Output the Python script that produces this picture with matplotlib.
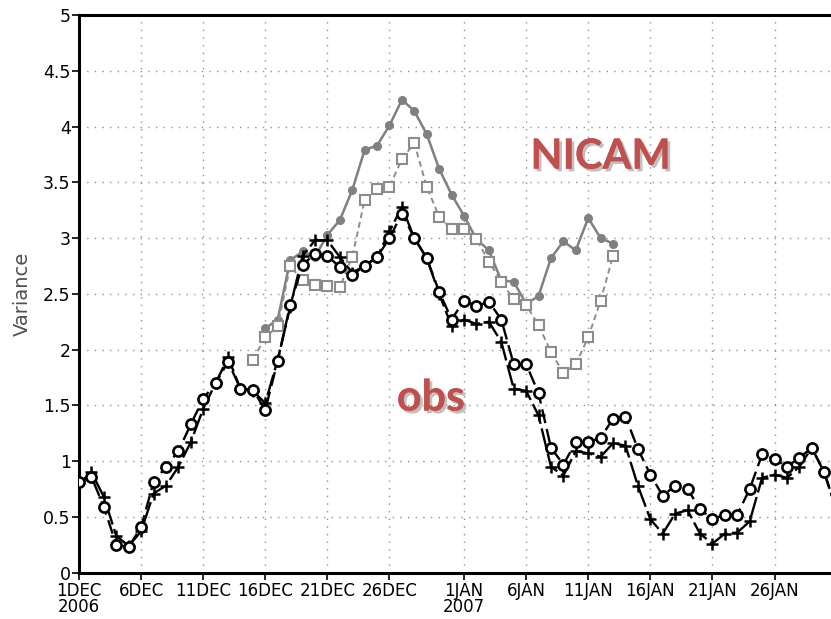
import numpy as np
import pandas as pd
import matplotlib
matplotlib.use('Agg')
import matplotlib.pyplot as plt
import matplotlib.patheffects as pe

# daily variance, 1 Dec 2006 - 31 Jan 2007
obs_circle = [0.81, 0.86, 0.59, 0.25, 0.23, 0.41, 0.81, 0.95, 1.09, 1.33,
              1.56, 1.70, 1.89, 1.65, 1.64, 1.46, 1.90, 2.40, 2.76, 2.86,
              2.84, 2.74, 2.67, 2.75, 2.83, 3.00, 3.22, 3.00, 2.82, 2.52,
              2.27, 2.44, 2.39, 2.43, 2.27, 1.87, 1.87, 1.61, 1.12, 0.97,
              1.17, 1.17, 1.21, 1.38, 1.40, 1.11, 0.88, 0.69, 0.78, 0.75,
              0.57, 0.48, 0.52, 0.52, 0.75, 1.06, 1.02, 0.95, 1.03, 1.12,
              0.90, 0.56]
obs_plus = [0.80, 0.90, 0.68, 0.33, 0.24, 0.37, 0.71, 0.78, 0.95, 1.17,
            1.47, 1.70, 1.93, 1.65, 1.63, 1.52, 1.91, 2.38, 2.84, 2.98,
            2.98, 2.83, 2.69, 2.75, 2.83, 3.06, 3.28, 3.00, 2.82, 2.50,
            2.21, 2.27, 2.23, 2.25, 2.07, 1.65, 1.63, 1.41, 0.95, 0.87,
            1.09, 1.07, 1.04, 1.16, 1.14, 0.78, 0.48, 0.35, 0.53, 0.56,
            0.35, 0.26, 0.35, 0.36, 0.46, 0.85, 0.88, 0.85, 0.95, 1.12,
            0.90, 0.56]
# NICAM runs: dots start 16 Dec, squares start 15 Dec
nicam_dot = [2.19, 2.27, 2.80, 2.88, 2.83, 3.03, 3.16, 3.43, 3.79, 3.83,
             4.01, 4.24, 4.14, 3.93, 3.62, 3.39, 3.20, 2.99, 2.89, 2.62,
             2.61, 2.41, 2.48, 2.82, 2.97, 2.89, 3.18, 3.00, 2.95]
nicam_sq = [1.91, 2.11, 2.21, 2.75, 2.62, 2.58, 2.57, 2.56, 2.83, 3.34,
            3.44, 3.46, 3.71, 3.85, 3.46, 3.19, 3.08, 3.08, 2.99, 2.79,
            2.61, 2.45, 2.40, 2.22, 1.98, 1.79, 1.87, 2.11, 2.44, 2.84]

tick_dates = ['2006-12-01', '2006-12-06', '2006-12-11', '2006-12-16',
              '2006-12-21', '2006-12-26', '2007-01-01', '2007-01-06',
              '2007-01-11', '2007-01-16', '2007-01-21', '2007-01-26']
tick_labels = ['1DEC\n2006', '6DEC', '11DEC', '16DEC', '21DEC', '26DEC',
               '1JAN\n2007', '6JAN', '11JAN', '16JAN', '21JAN', '26JAN']

days = pd.date_range('2006-12-01', periods=len(obs_circle), freq='D')
days_dot = pd.date_range('2006-12-16', periods=len(nicam_dot), freq='D')
days_sq = pd.date_range('2006-12-15', periods=len(nicam_sq), freq='D')

W, H = 831, 619
fig = plt.figure(figsize=(W / 100, H / 100), dpi=100)
x0, x1, y0, y1 = 79, 836.6, 15, 572.7
ax = fig.add_axes([x0 / W, 1 - y1 / H, (x1 - x0) / W, (y1 - y0) / H])

lab_font = ['Liberation Sans Narrow', 'DejaVu Sans']

gray = '#808080'
ax.plot(days_dot, nicam_dot, color=gray, lw=1.8, marker='o', ms=5.5,
        mfc=gray, mec=gray, zorder=3)
ax.plot(days_sq, nicam_sq, color='#8c8c8c', lw=1.4, ls=(0, (3, 2)),
        marker='s', ms=7.5, mfc='white', mec='#8c8c8c', mew=1.5, zorder=3)
ax.plot(days, obs_plus, color='black', lw=1.7, ls=(0, (9, 2)),
        marker='+', ms=8, mew=1.8, zorder=4)
ax.plot(days, obs_circle, color='black', lw=1.7, ls=(0, (6, 2.5)),
        marker='o', ms=7.3, mfc='white', mec='black', mew=1.9, zorder=5)

ax.set_xlim(pd.Timestamp('2006-12-01'), pd.Timestamp('2007-01-31'))
ax.set_ylim(0, 5)
ax.set_yticks(np.arange(0, 5.01, 0.5))
ax.set_yticklabels(['0', '0.5', '1', '1.5', '2', '2.5', '3', '3.5', '4',
                    '4.5', '5'], family=lab_font, fontsize=12.5)
ax.set_xticks(pd.to_datetime(tick_dates))
ax.set_xticklabels(tick_labels, family=lab_font, fontsize=12,
                   linespacing=0.85)
ax.tick_params(axis='both', direction='out', length=5, width=1.2,
               colors='black', pad=1)
ax.tick_params(axis='x', pad=2)

ax.grid(True, color='#909090', lw=1.0, ls=(0, (1, 4.5)))
ax.set_axisbelow(True)
for side in ['left', 'bottom', 'top']:
    ax.spines[side].set_linewidth(2.2)
ax.spines['right'].set_visible(False)

ax.set_ylabel('Variance', fontsize=14, color='#505050', labelpad=8,
              family=['DejaVu Sans'])

shadow = [pe.withSimplePatchShadow(offset=(2, -2), shadow_rgbFace='#999999',
                                   alpha=0.6), pe.Normal()]
ax.text(pd.Timestamp('2007-01-12 00:00'), 3.73, 'NICAM', color='#c0504d',
        fontsize=30, fontweight='bold', family=['Lato', 'DejaVu Sans'],
        ha='center', va='center', path_effects=shadow)
ax.text(pd.Timestamp('2006-12-29 08:00'), 1.57, 'obs', color='#c0504d',
        fontsize=31, fontweight='bold', family=['Lato', 'DejaVu Sans'],
        ha='center', va='center', path_effects=shadow)

fig.savefig('out.png', dpi=100)
